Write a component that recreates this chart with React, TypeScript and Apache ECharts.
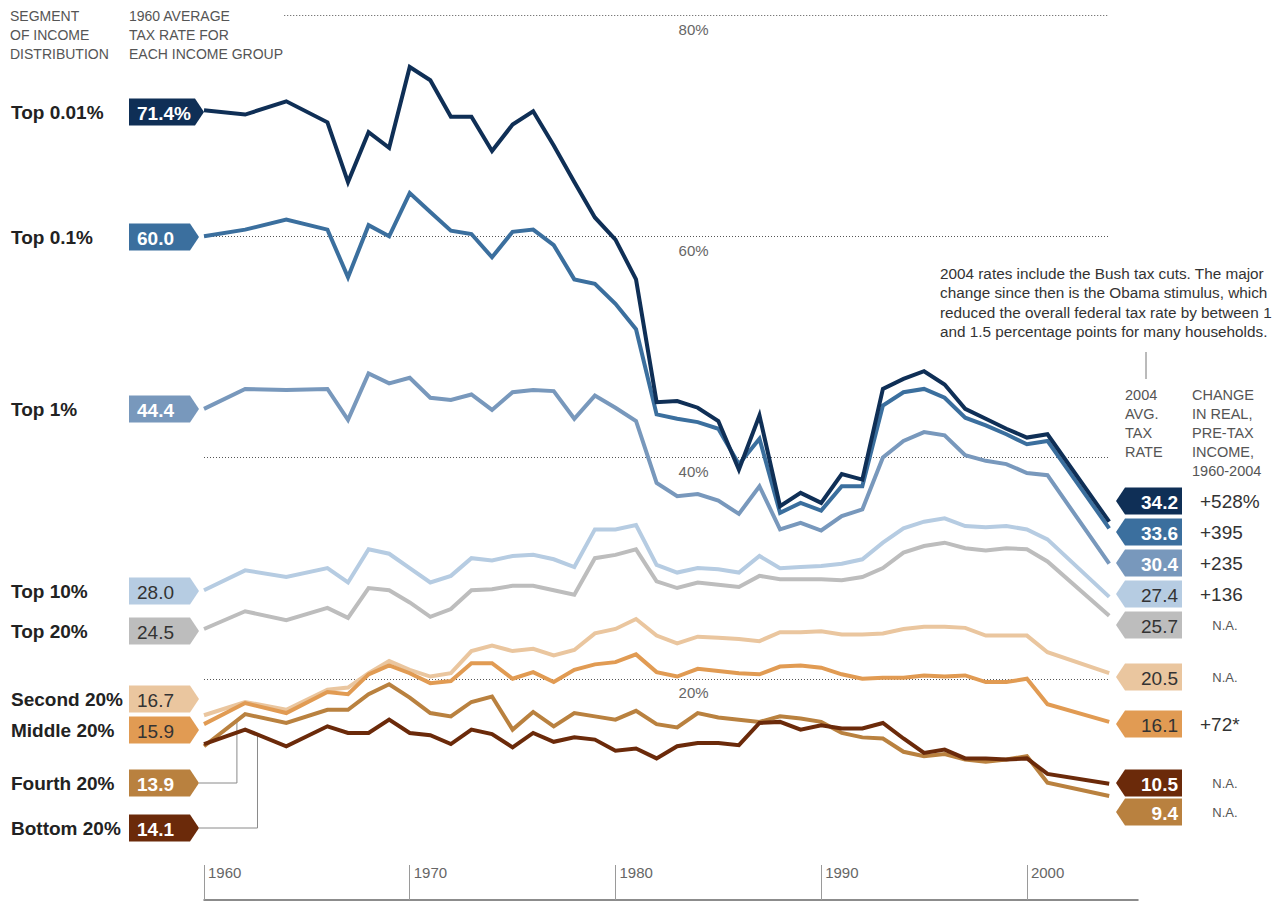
import React, { useEffect, useRef } from "react";
import * as echarts from "echarts";

const years = [1960, 1962, 1964, 1966, 1967, 1968, 1969, 1970, 1971, 1972, 1973, 1974, 1975, 1976, 1977, 1978, 1979, 1980, 1981, 1982, 1983, 1984, 1985, 1986, 1987, 1988, 1989, 1990, 1991, 1992, 1993, 1994, 1995, 1996, 1997, 1998, 1999, 2000, 2001, 2004];

const top001 = [71.4, 71.0, 72.2, 70.3, 64.9, 69.4, 68.0, 75.3, 74.1, 70.8, 70.8, 67.7, 70.1, 71.3, 68.2, 64.9, 61.7, 59.7, 56.1, 45.0, 45.1, 44.5, 43.3, 38.9, 43.8, 35.6, 36.8, 35.9, 38.5, 38.0, 46.2, 47.1, 47.8, 46.6, 44.4, 43.5, 42.6, 41.8, 42.1, 34.2];
const top01 = [60.0, 60.6, 61.5, 60.6, 56.3, 61.0, 60.0, 63.9, 62.2, 60.5, 60.2, 58.1, 60.4, 60.6, 59.2, 56.1, 55.7, 53.9, 51.6, 43.9, 43.5, 43.2, 42.6, 39.4, 41.7, 35.0, 35.9, 35.2, 37.4, 37.4, 44.7, 45.9, 46.2, 45.4, 43.6, 42.9, 42.1, 41.2, 41.5, 33.6];
const top1 = [44.4, 46.2, 46.1, 46.2, 43.4, 47.6, 46.7, 47.2, 45.4, 45.2, 45.7, 44.3, 45.9, 46.1, 46.0, 43.5, 45.6, 44.5, 43.3, 37.7, 36.5, 36.7, 36.1, 34.9, 37.4, 33.5, 34.1, 33.4, 34.7, 35.3, 40.0, 41.5, 42.3, 42.0, 40.2, 39.7, 39.4, 38.6, 38.4, 30.4];
const top10 = [28.0, 29.8, 29.2, 30.0, 28.7, 31.7, 31.3, 30.0, 28.7, 29.3, 30.9, 30.7, 31.1, 31.2, 30.8, 30.1, 33.5, 33.5, 33.9, 30.3, 29.6, 30.0, 29.9, 29.6, 31.1, 30.0, 30.1, 30.2, 30.4, 30.8, 32.3, 33.6, 34.2, 34.5, 33.8, 33.7, 33.8, 33.5, 32.6, 27.4];
const top20 = [24.5, 26.1, 25.3, 26.4, 25.5, 28.2, 28.0, 26.9, 25.6, 26.3, 28.0, 28.1, 28.4, 28.4, 28.0, 27.6, 30.9, 31.2, 31.7, 28.8, 28.2, 28.7, 28.5, 28.3, 29.3, 29.0, 29.0, 29.0, 28.9, 29.2, 30.0, 31.4, 32.0, 32.3, 31.8, 31.6, 31.8, 31.7, 30.6, 25.7];
const second20 = [16.7, 17.9, 17.2, 19.0, 19.2, 20.5, 21.6, 20.8, 20.2, 20.5, 22.5, 23.0, 22.5, 22.7, 22.1, 22.6, 24.1, 24.5, 25.4, 23.9, 23.2, 23.8, 23.7, 23.6, 23.4, 24.2, 24.2, 24.3, 24.0, 24.0, 24.1, 24.5, 24.7, 24.7, 24.6, 23.9, 23.9, 23.9, 22.4, 20.5];
const middle20 = [15.9, 17.8, 16.9, 18.8, 18.6, 20.4, 21.2, 20.5, 19.6, 19.8, 21.4, 21.4, 20.0, 20.6, 19.7, 20.8, 21.3, 21.5, 22.2, 20.6, 20.2, 20.9, 20.7, 20.5, 20.4, 21.1, 21.2, 21.0, 20.4, 20.0, 20.1, 20.1, 20.3, 20.2, 20.3, 19.7, 19.7, 20.0, 17.7, 16.1];
const fourth20 = [13.9, 16.8, 16.0, 17.2, 17.2, 18.6, 19.5, 18.3, 16.9, 16.6, 17.9, 18.4, 15.4, 17.0, 15.7, 16.9, 16.6, 16.3, 17.1, 15.9, 15.6, 16.9, 16.5, 16.3, 16.1, 16.6, 16.4, 16.1, 15.1, 14.7, 14.6, 13.4, 13.0, 13.2, 12.7, 12.5, 12.7, 13.0, 10.6, 9.4];
const bottom20 = [14.1, 15.4, 13.9, 15.7, 15.1, 15.1, 16.3, 15.1, 14.9, 14.1, 15.4, 15.0, 13.8, 15.1, 14.3, 14.7, 14.5, 13.5, 13.7, 12.8, 13.9, 14.2, 14.2, 14.0, 16.0, 16.1, 15.4, 15.8, 15.5, 15.5, 16.0, 14.6, 13.3, 13.6, 12.8, 12.8, 12.7, 12.8, 11.4, 10.5];

const groupNames = ["Top 0.01%", "Top 0.1%", "Top 1%", "Top 10%", "Top 20%", "Second 20%", "Middle 20%", "Fourth 20%", "Bottom 20%"];
const groupValues = [top001, top01, top1, top10, top20, second20, middle20, fourth20, bottom20];
const groupColors = ["#0f2f56", "#3b6f9e", "#7898bc", "#b6cce2", "#bdbdbd", "#eac69f", "#e19b53", "#b9813f", "#6b2a0a"];
const incomeChange = ["+528%", "+395", "+235", "+136", "N.A.", "N.A.", "+72*", "N.A.", "N.A."];
const darkBoxText = [false, false, false, true, true, true, true, false, false];

const gridValues = [20, 40, 60, 80];
const tickYears = [1960, 1970, 1980, 1990, 2000];

// label layout (pixel positions of the annotation boxes)
const leftBoxY = [112, 237, 409, 591, 631, 699, 730, 783, 828];
const rightBoxY = [501, 532, 563, 594, 625, 677, 724, 812, 783];

const FONT = '"Liberation Sans", Arial, sans-serif';

function interp(vals: number[], yr: number) {
  for (let i = 0; i < years.length - 1; i++) {
    if (yr >= years[i] && yr <= years[i + 1]) {
      const t = (yr - years[i]) / (years[i + 1] - years[i]);
      return vals[i] + t * (vals[i + 1] - vals[i]);
    }
  }
  return vals[vals.length - 1];
}

export default function App() {
  const ref = useRef<HTMLDivElement>(null);
  useEffect(() => {
    if (!ref.current) return;
    const chart = echarts.init(ref.current, null, { renderer: "svg" });
    const drawOrder = [4, 3, 2, 1, 0, 5, 6, 7, 8];
    const series: any[] = drawOrder.map((gi, k) => ({
      type: "line",
      name: groupNames[gi],
      data: years.map((y, i) => [y, groupValues[gi][i]]),
      showSymbol: false,
      symbol: "none",
      silent: true,
      z: 3 + k,
      lineStyle: { color: groupColors[gi], width: 4, join: "miter" },
      itemStyle: { color: groupColors[gi] },
    }));
    series.unshift({
      type: "line",
      name: "grid",
      data: [],
      silent: true,
      z: 1,
      markLine: {
        symbol: "none",
        silent: true,
        label: { show: false },
        lineStyle: { color: "#555", type: [1, 2], width: 1 },
        data: gridValues.map((v) => [
          { coord: [v === 80 ? 1963.9 : 1960, v] },
          { coord: [2004, v] },
        ]),
      },
      markPoint: {
        symbol: "circle",
        symbolSize: 1,
        silent: true,
        itemStyle: { color: "rgba(0,0,0,0)" },
        label: {
          show: true,
          position: "bottom",
          distance: 6,
          color: "#666",
          fontSize: 15,
          fontFamily: FONT,
          formatter: (p: any) => p.value + "%",
        },
        data: gridValues.map((v) => ({ coord: [1983.8, v], value: v })),
      },
    });

    chart.setOption({
      animation: false,
      backgroundColor: "#ffffff",
      grid: { left: 204, right: 136, top: 15, bottom: 3 },
      xAxis: {
        type: "value",
        min: 1960,
        max: 2005.4,
        interval: 10,
        axisLine: { show: true, onZero: false, lineStyle: { color: "#666", width: 1.5 } },
        axisTick: { show: true, inside: true, length: 35, customValues: tickYears, lineStyle: { color: "#9a9a9a", width: 1 } },
        axisLabel: {
          show: true,
          inside: true,
          customValues: tickYears,
          margin: 35,
          align: "left",
          verticalAlign: "top",
          padding: [0, 0, 0, 4],
          color: "#666",
          fontSize: 15,
          fontFamily: FONT,
          formatter: (v: number) => String(v),
        },
        splitLine: { show: false },
      },
      yAxis: { type: "value", min: 0, max: 80, show: false, splitLine: { show: false } },
      series,
    });

    const elements: any[] = [];
    const txt = (x: number, y: number, text: string, o: any = {}) => ({
      type: "text",
      x,
      y,
      silent: true,
      style: {
        text,
        fill: o.fill || "#555",
        fontSize: o.fontSize || 14,
        fontWeight: o.fontWeight || "normal",
        fontFamily: FONT,
        align: o.align || "left",
        verticalAlign: o.verticalAlign || "middle",
        lineHeight: o.lineHeight || 19,
      },
    });

    // headers
    elements.push(txt(10, 6, "SEGMENT\nOF INCOME\nDISTRIBUTION", { verticalAlign: "top", lineHeight: 19 }));
    elements.push(txt(129, 6, "1960 AVERAGE\nTAX RATE FOR\nEACH INCOME GROUP", { verticalAlign: "top", lineHeight: 19 }));
    elements.push(txt(1125, 385, "2004\nAVG.\nTAX\nRATE", { verticalAlign: "top", lineHeight: 19, fontSize: 14.5 }));
    elements.push(txt(1192, 385, "CHANGE\nIN REAL,\nPRE-TAX\nINCOME,\n1960-2004", { verticalAlign: "top", lineHeight: 19, fontSize: 14.5 }));

    // annotation
    elements.push(txt(940, 264, "2004 rates include the Bush tax cuts. The major\nchange since then is the Obama stimulus, which\nreduced the overall federal tax rate by between 1\nand 1.5 percentage points for many households.", { verticalAlign: "top", lineHeight: 19.3, fill: "#333", fontSize: 15.3 }));
    elements.push({ type: "line", silent: true, shape: { x1: 1146, y1: 352, x2: 1146, y2: 379 }, style: { stroke: "#777", lineWidth: 1 } });

    const bh = 27;
    groupNames.forEach((name, gi) => {
      const vals = groupValues[gi];
      const color = groupColors[gi];
      const dark = darkBoxText[gi];
      // left label
      const ly = leftBoxY[gi];
      elements.push(txt(11, ly, name, { fill: "#222", fontSize: 19, fontWeight: "bold" }));
      const L = 129;
      const tip = gi === 0 ? 204 : 199;
      const R = tip - 9;
      elements.push({
        type: "polygon",
        silent: true,
        shape: { points: [[L, ly - bh / 2], [R, ly - bh / 2], [tip, ly], [R, ly + bh / 2], [L, ly + bh / 2]] },
        style: { fill: color },
      });
      const startText = vals[0].toFixed(1) + (gi === 0 ? "%" : "");
      elements.push(txt(137, ly + 1, startText, { fill: dark ? "#333" : "#fff", fontSize: 19, fontWeight: dark ? "normal" : "bold" }));

      // right box
      const ry = rightBoxY[gi];
      const rt = 1116;
      const rl = 1125;
      const rr = 1182;
      elements.push({
        type: "polygon",
        silent: true,
        shape: { points: [[rt, ry], [rl, ry - bh / 2], [rr, ry - bh / 2], [rr, ry + bh / 2], [rl, ry + bh / 2]] },
        style: { fill: color },
      });
      const endText = vals[vals.length - 1].toFixed(1);
      elements.push(txt(1178, ry + 1, endText, { fill: dark ? "#333" : "#fff", fontSize: 19, fontWeight: dark ? "normal" : "bold", align: "right" }));
      const ch = incomeChange[gi];
      if (ch === "N.A.") {
        elements.push(txt(1225, ry, ch, { fill: "#555", fontSize: 13, align: "center" }));
      } else {
        elements.push(txt(1200, ry, ch, { fill: "#333", fontSize: 19 }));
      }
    });

    // connectors for Fourth and Bottom labels
    const conn = [
      { gi: 7, yr: 1961.6 },
      { gi: 8, yr: 1962.6 },
    ];
    conn.forEach(({ gi, yr }) => {
      const p = chart.convertToPixel({ gridIndex: 0 }, [yr, interp(groupValues[gi], yr)]) as number[];
      const ly = leftBoxY[gi];
      elements.push({
        type: "polyline",
        silent: true,
        z: 0,
        shape: { points: [[199, ly], [p[0], ly], [p[0], p[1]]] },
        style: { stroke: "#8a8a8a", lineWidth: 1, fill: null },
      });
    });

    chart.setOption({ graphic: { elements } });

    return () => chart.dispose();
  }, []);

  return (
    <div
      ref={ref}
      style={{ position: "absolute", left: 0, top: 0, width: 1274, height: 903, background: "#fff" }}
    />
  );
}
